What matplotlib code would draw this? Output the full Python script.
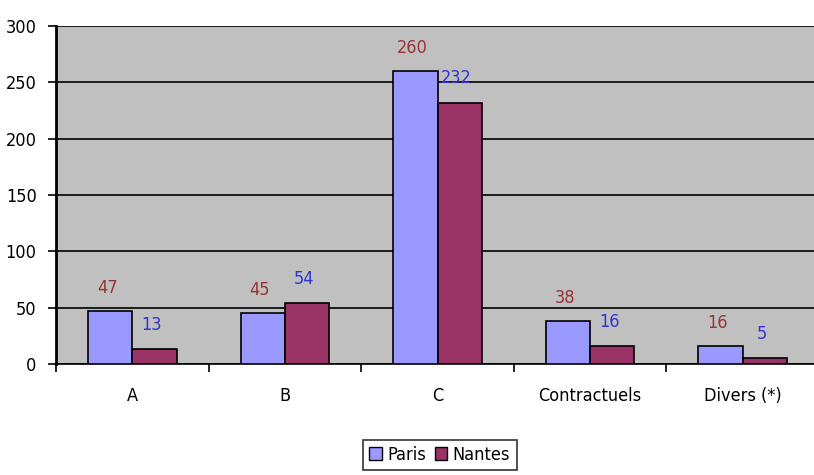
import numpy as np
import matplotlib
matplotlib.use("Agg")
import matplotlib.pyplot as plt
from matplotlib.patches import Patch

categories = ["A", "B", "C", "Contractuels", "Divers (*)"]
paris = [47, 45, 260, 38, 16]
nantes = [13, 54, 232, 16, 5]

PARIS_COLOR = "#9999ff"
NANTES_COLOR = "#993366"
PARIS_LABEL = "#993333"
NANTES_LABEL = "#3333cc"

plt.rcParams["font.family"] = ["DejaVu Sans"]
plt.rcParams["font.stretch"] = "condensed"

fig = plt.figure(figsize=(8.14, 4.75), dpi=100)
ax = fig.add_axes([0.069, 0.234, 0.937, 0.711])
ax.set_facecolor("#c0c0c0")

x = np.arange(len(categories))
w = 0.29
ax.bar(x - w / 2, paris, w, color=PARIS_COLOR, edgecolor="black", linewidth=1.2, zorder=3)
ax.bar(x + w / 2, nantes, w, color=NANTES_COLOR, edgecolor="black", linewidth=1.2, zorder=3)

# value labels, offset above the bars like the original
for i in range(len(categories)):
    ax.annotate(str(paris[i]), (x[i] - w / 2 - 0.02, paris[i]), xytext=(0, 10),
                textcoords="offset points", ha="center", va="bottom",
                color=PARIS_LABEL, fontsize=13, zorder=4)
    ax.annotate(str(nantes[i]), (x[i] + w / 2 - 0.02, nantes[i]), xytext=(0, 11),
                textcoords="offset points", ha="center", va="bottom",
                color=NANTES_LABEL, fontsize=13, zorder=4)

ax.set_ylim(0, 300)
ax.set_xlim(-0.5, len(categories) - 0.5)
ax.set_yticks(np.arange(0, 301, 50))
ax.yaxis.grid(True, color="black", linewidth=1.2, zorder=1)
ax.set_axisbelow(True)

ax.set_xticks(x)
ax.set_xticklabels(categories, fontsize=13)
ax.tick_params(axis="x", length=0, pad=17)
ax.set_xticks(np.arange(-0.5, len(categories) - 0.5, 1), minor=True)
ax.tick_params(axis="x", which="minor", length=6, width=1.2, direction="out")
ax.tick_params(axis="y", length=6, width=1.2, labelsize=13, pad=8)

for side in ["top", "right"]:
    ax.spines[side].set_visible(False)
ax.spines["left"].set_linewidth(2)
ax.spines["bottom"].set_linewidth(1.2)

handles = [Patch(facecolor=PARIS_COLOR, edgecolor="black", label="Paris"),
           Patch(facecolor=NANTES_COLOR, edgecolor="black", label="Nantes")]
leg = fig.legend(handles=handles, loc="center", bbox_to_anchor=(0.540, 0.042), ncol=2,
                 fontsize=13, frameon=True, fancybox=False, edgecolor="black",
                 handlelength=0.7, handleheight=0.7, handletextpad=0.3, columnspacing=0.5,
                 borderpad=0.35)
leg.get_frame().set_linewidth(1.2)

fig.savefig("out.png", dpi=100)
